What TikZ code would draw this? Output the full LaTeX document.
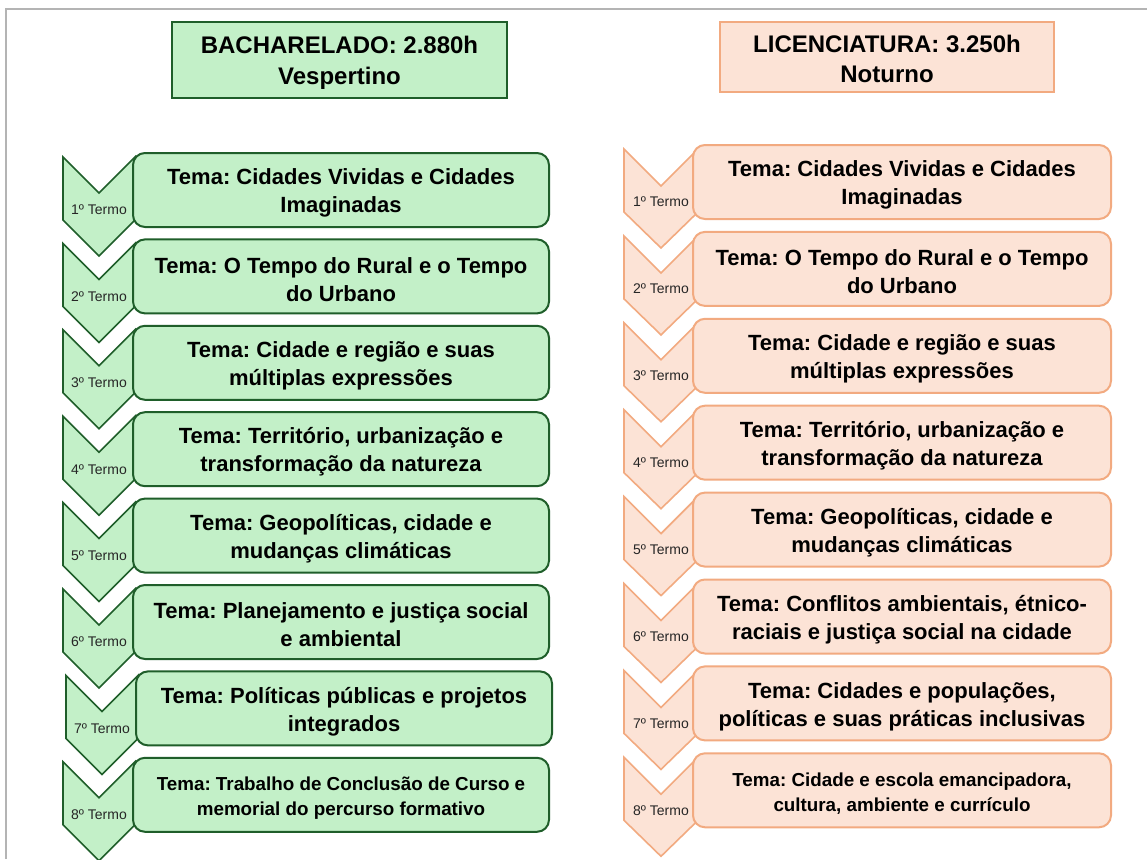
\documentclass[tikz,border=0pt]{standalone}
\usepackage{fontspec}
\setmainfont{Liberation Sans}
\frenchspacing
\definecolor{gfill}{HTML}{C3F0C8}
\definecolor{gline}{HTML}{1F5E2A}
\definecolor{ofill}{HTML}{FCE3D6}
\definecolor{oline}{HTML}{F2AA80}
\definecolor{frame}{HTML}{B4B4B4}
\tikzset{
  gbox/.style={draw=gline, fill=gfill, line width=2pt, rounded corners=12pt, minimum width=416pt, minimum height=74pt, inner sep=0pt},
  obox/.style={draw=oline, fill=ofill, line width=2pt, rounded corners=12pt, minimum width=418pt, minimum height=74pt, inner sep=0pt},
  boxtext/.style={align=center, inner sep=0pt, text=black},
  gchev/.style={draw=gline, fill=gfill, line width=1.6pt, line join=miter},
  ochev/.style={draw=oline, fill=ofill, line width=1.6pt, line join=miter},
  termlbl/.style={font=\fontsize{14}{16}\selectfont, inner sep=0pt, text=black!85},
  ghead/.style={draw=gline, fill=gfill, line width=2.4pt, minimum width=335pt, minimum height=76pt, inner sep=0pt},
  ohead/.style={draw=oline, fill=ofill, line width=2.4pt, minimum width=334pt, minimum height=70pt, inner sep=0pt},
  headtext/.style={align=center, inner sep=0pt, font=\bfseries\fontsize{24}{31}\selectfont},
  bigtxt/.style={font=\bfseries\fontsize{22}{28}\selectfont},
  smalltxt/.style={font=\bfseries\fontsize{18.8}{25}\selectfont}
}
% #1 index, #2 top y, #3 x shift, #4 text style, #5 text
\newcommand\lrowdraw[5]{%
  \draw[gchev] (63+#3,#2+4) -- ++(36,36) -- ++(36,-36) -- ++(0,63) -- ++(-36,36) -- ++(-36,-36) -- cycle;
  \node[termlbl] (Lt#1) at (99+#3,#2+57) {#1º Termo};
  \node[gbox] (L#1) at (341+#3,#2+37) {};
  \node[boxtext,#4] (Lx#1) at (341+#3,#2+40) {#5};
}
\newcommand\rrowdraw[4]{%
  \draw[ochev] (624,#2+4) -- ++(37,37) -- ++(37,-37) -- ++(0,63) -- ++(-37,36) -- ++(-37,-36) -- cycle;
  \node[termlbl] (Rt#1) at (661,#2+57) {#1º Termo};
  \node[obox] (R#1) at (902,#2+37) {};
  \node[boxtext,#3] (Rx#1) at (902,#2+40) {#4};
}
\begin{document}
\begin{tikzpicture}[x=1pt,y=-1pt]
\useasboundingbox (0,0) rectangle (1147,859);
\fill[white] (0,0) rectangle (1147,859);
\draw[frame, line width=2pt] (6,859) -- (6,9) -- (1147,9);

\node[ghead] (hL) at (339.5,60) {};
\node[headtext] (hLt) at (339.5,63) {BACHARELADO: 2.880h\\Vespertino};
\node[ohead] (hR) at (887,57) {};
\node[headtext, font=\bfseries\fontsize{24}{30}\selectfont] (hRt) at (887,59) {LICENCIATURA: 3.250h\\Noturno};

\lrowdraw{1}{153}{0}{bigtxt}{Tema: Cidades Vividas e Cidades\\Imaginadas}
\lrowdraw{2}{239.4}{0}{bigtxt}{Tema: O Tempo do Rural e o Tempo\\do Urbano}
\lrowdraw{3}{325.8}{0}{bigtxt}{Tema: Cidade e região e suas\\múltiplas expressões}
\lrowdraw{4}{412.2}{0}{bigtxt}{Tema: Território, urbanização e\\transformação da natureza}
\lrowdraw{5}{498.6}{0}{bigtxt}{Tema: Geopolíticas, cidade e\\mudanças climáticas}
\lrowdraw{6}{585}{0}{bigtxt}{Tema: Planejamento e justiça social\\e ambiental}
\lrowdraw{7}{671.4}{3}{bigtxt}{Tema: Políticas públicas e projetos\\integrados}
\lrowdraw{8}{757.8}{0}{smalltxt}{Tema: Trabalho de Conclusão de Curso e\\memorial do percurso formativo}

\rrowdraw{1}{145}{bigtxt}{Tema: Cidades Vividas e Cidades\\Imaginadas}
\rrowdraw{2}{231.9}{bigtxt}{Tema: O Tempo do Rural e o Tempo\\do Urbano}
\rrowdraw{3}{318.8}{bigtxt}{Tema: Cidade e região e suas\\múltiplas expressões}
\rrowdraw{4}{405.7}{bigtxt}{Tema: Território, urbanização e\\transformação da natureza}
\rrowdraw{5}{492.6}{bigtxt}{Tema: Geopolíticas, cidade e\\mudanças climáticas}
\rrowdraw{6}{579.5}{bigtxt}{Tema: Conflitos ambientais, étnico-\\raciais e justiça social na cidade}
\rrowdraw{7}{666.4}{bigtxt}{Tema: Cidades e populações,\\políticas e suas práticas inclusivas}
\rrowdraw{8}{753.3}{smalltxt}{Tema: Cidade e escola emancipadora,\\cultura, ambiente e currículo}
\end{tikzpicture}
\end{document}
